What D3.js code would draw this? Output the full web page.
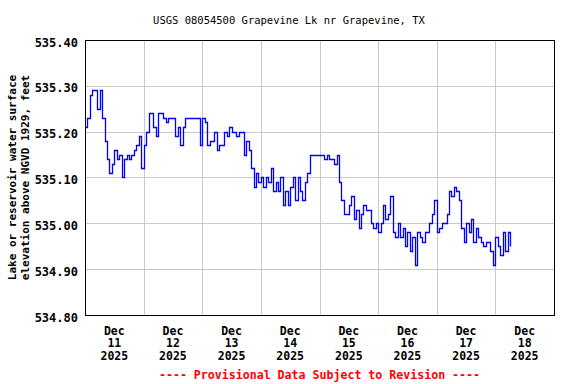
<!DOCTYPE html>
<html>
<head>
<meta charset="utf-8">
<script src="https://cdn.jsdelivr.net/npm/d3@7"></script>
<style>
  body { margin: 0; background: #fff; }
  text { font-family: "DejaVu Sans Mono", monospace; }
</style>
</head>
<body>
<div id="chart"></div>
<script>
// hourly readings starting Dec 11 2025 00:00, feet above NGVD 1929
var dec11 = [535.21, 535.23, 535.28, 535.29, 535.29, 535.25, 535.29, 535.23, 535.18, 535.14, 535.11, 535.13,
             535.16, 535.14, 535.15, 535.10, 535.14, 535.15, 535.14, 535.15, 535.16, 535.17, 535.19, 535.12];
var dec12 = [535.17, 535.20, 535.24, 535.24, 535.21, 535.19, 535.24, 535.24, 535.23, 535.22, 535.23, 535.23,
             535.23, 535.19, 535.21, 535.17, 535.21, 535.23, 535.23, 535.23, 535.23, 535.23, 535.23, 535.17];
var dec13 = [535.23, 535.22, 535.17, 535.18, 535.18, 535.20, 535.16, 535.17, 535.17, 535.20, 535.19, 535.21,
             535.20, 535.20, 535.19, 535.20, 535.20, 535.15, 535.18, 535.16, 535.12, 535.08, 535.11, 535.09];
var dec14 = [535.10, 535.08, 535.10, 535.09, 535.12, 535.07, 535.09, 535.07, 535.10, 535.04, 535.07, 535.04,
             535.08, 535.10, 535.05, 535.10, 535.07, 535.05, 535.09, 535.11, 535.15, 535.15, 535.15, 535.15];
var dec15 = [535.15, 535.15, 535.14, 535.15, 535.14, 535.14, 535.13, 535.15, 535.09, 535.05, 535.02, 535.02,
             535.04, 535.06, 535.01, 535.03, 534.99, 535.02, 535.04, 535.03, 535.03, 535.00, 534.99, 535.00];
var dec16 = [534.98, 535.00, 535.04, 535.01, 535.02, 535.06, 534.98, 534.97, 535.00, 534.97, 534.99, 534.95,
             534.98, 534.94, 534.97, 534.91, 534.98, 534.97, 534.96, 534.98, 534.98, 535.00, 535.02, 535.05];
var dec17 = [534.98, 534.99, 535.00, 535.00, 535.02, 535.07, 535.06, 535.08, 535.07, 535.05, 534.99, 534.96,
             535.00, 534.98, 535.01, 534.96, 534.99, 534.97, 534.96, 534.95, 534.96, 534.96, 534.94, 534.91];
var dec18 = [534.97, 534.95, 534.93, 534.98, 534.94, 534.98, 534.95];

var yTicks = [534.80, 534.90, 535.00, 535.10, 535.20, 535.30, 535.40];
var dayLabels = [11, 12, 13, 14, 15, 16, 17, 18];

var values = [].concat(dec11, dec12, dec13, dec14, dec15, dec16, dec17, dec18);
var start = new Date(2025, 11, 11, 0, 0);
var data = values.map(function(v, i){
    return { t: d3.timeHour.offset(start, i), v: v };
});

var W = 576, H = 384;
var pLeft = 85, pRight = 554, pTop = 40, pBottom = 315;

var svg = d3.select('#chart').append('svg')
    .attr('width', W).attr('height', H);

var x = d3.scaleTime()
    .domain([new Date(2025, 11, 11), new Date(2025, 11, 19)])
    .range([pLeft, pRight]);
var y = d3.scaleLinear()
    .domain([534.8, 535.4])
    .range([pBottom, pTop]);

// grid
var days = d3.timeDay.range(new Date(2025, 11, 12), new Date(2025, 11, 19));
svg.append('g').selectAll('line')
    .data(days).enter()
    .append('line')
    .attr('x1', function(d){ return Math.round(x(d)) + 0.5; })
    .attr('x2', function(d){ return Math.round(x(d)) + 0.5; })
    .attr('y1', pTop).attr('y2', pBottom)
    .attr('stroke', '#c8c8c8');
svg.append('g').selectAll('line')
    .data(yTicks.slice(1, -1)).enter()
    .append('line')
    .attr('x1', pLeft).attr('x2', pRight)
    .attr('y1', function(d){ return Math.round(y(d)) + 0.5; })
    .attr('y2', function(d){ return Math.round(y(d)) + 0.5; })
    .attr('stroke', '#c8c8c8');

// the series, drawn as steps like the gauge record
var line = d3.line()
    .curve(d3.curveStepAfter)
    .x(function(d){ return Math.round(x(d.t)) + 0.5; })
    .y(function(d){ return Math.round(y(d.v)) + 0.5; });
svg.append('path')
    .datum(data)
    .attr('d', line)
    .attr('fill', 'none')
    .attr('stroke', '#0000ff')
    .attr('stroke-width', 1.3);

// frame
svg.append('rect')
    .attr('x', pLeft + 0.5).attr('y', pTop + 0.5)
    .attr('width', pRight - pLeft).attr('height', pBottom - pTop)
    .attr('fill', 'none')
    .attr('stroke', '#000')
    .attr('stroke-width', 1);

// y tick labels
svg.append('g').selectAll('text')
    .data(yTicks).enter()
    .append('text')
    .attr('x', 78)
    .attr('y', function(d){ return y(d) + 6.5; })
    .attr('text-anchor', 'end')
    .attr('font-size', '12px')
    .attr('font-weight', 'bold')
    .text(function(d){ return d.toFixed(2); });

// x tick labels, centered on noon of each day
var xl = svg.append('g').selectAll('text')
    .data(dayLabels).enter()
    .append('text')
    .attr('text-anchor', 'middle')
    .attr('font-size', '11.5px')
    .attr('font-weight', 'bold');
xl.each(function(d){
    var t = d3.select(this);
    var cx = x(new Date(2025, 11, d, 12));
    ['Dec', String(d), '2025'].forEach(function(s, i){
        t.append('tspan').attr('x', cx).attr('y', 334.5 + i * 12.7).text(s);
    });
});

// title
svg.append('text')
    .attr('x', 289).attr('y', 24)
    .attr('text-anchor', 'middle')
    .attr('font-size', '10.5px')
    .attr('font-weight', 500)
    .text('USGS 08054500 Grapevine Lk nr Grapevine, TX');

// y axis title
var yt = svg.append('text')
    .attr('transform', 'translate(0,' + ((pTop + pBottom) / 2) + ') rotate(-90)')
    .attr('text-anchor', 'middle')
    .attr('font-size', '11px')
    .attr('font-weight', 'bold');
yt.append('tspan').attr('x', 0).attr('y', 16).text('Lake or reservoir water surface');
yt.append('tspan').attr('x', 0).attr('y', 29).text('elevation above NGVD 1929, feet');

// footer
svg.append('text')
    .attr('x', (pLeft + pRight) / 2).attr('y', 378.5)
    .attr('text-anchor', 'middle')
    .attr('font-size', '11.6px')
    .attr('font-weight', 'bold')
    .attr('fill', '#ff0000')
    .text('---- Provisional Data Subject to Revision ----');
</script>
</body>
</html>
